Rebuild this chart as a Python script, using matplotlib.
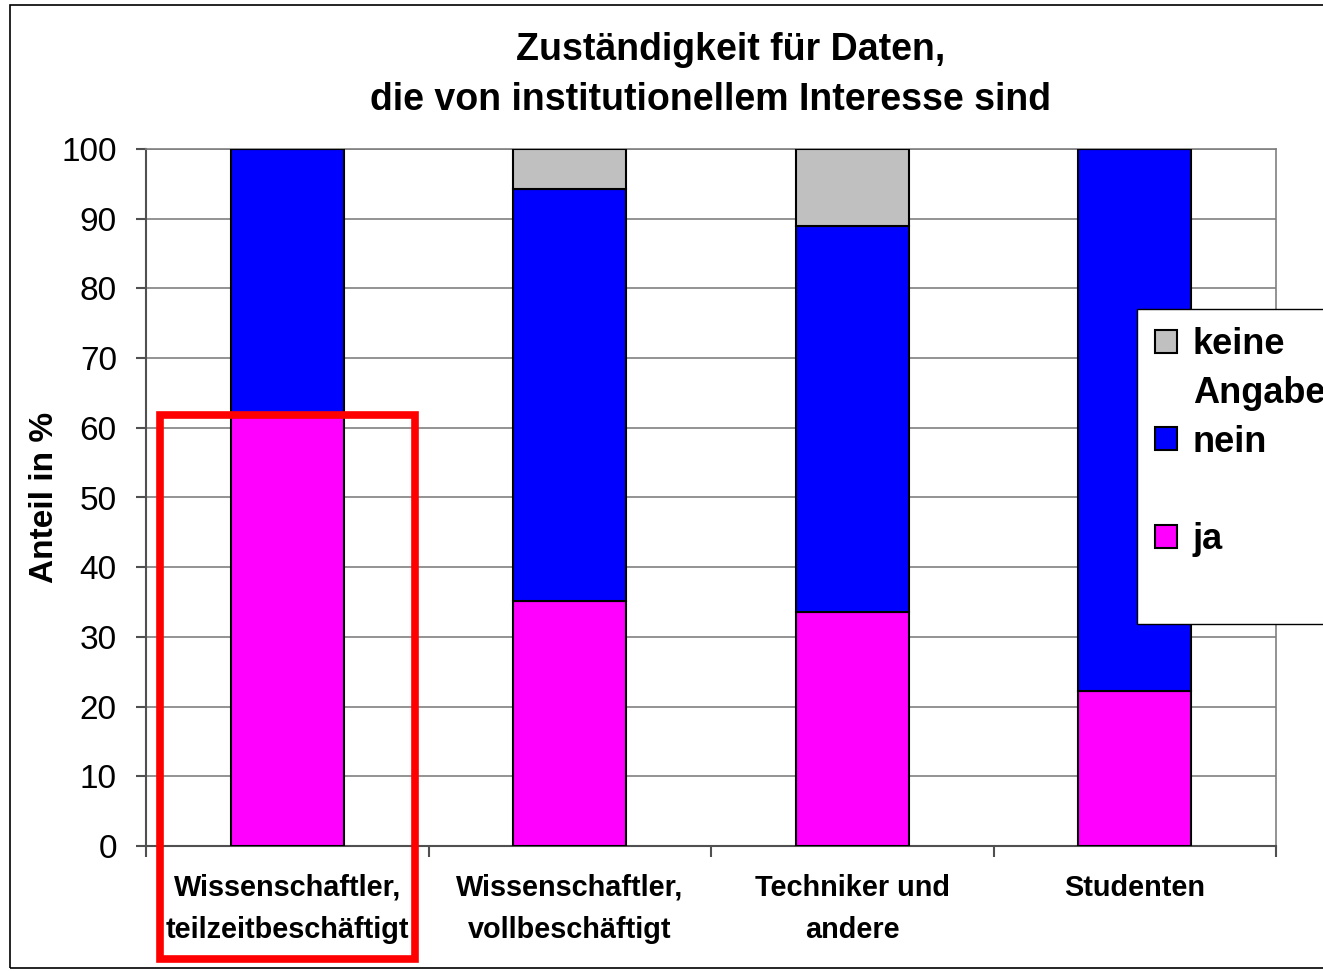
import matplotlib.pyplot as plt
from matplotlib.patches import Rectangle
import numpy as np

plt.rcParams['font.family'] = ['Liberation Sans', 'DejaVu Sans']

# data
categories = ["Wissenschaftler,\nteilzeitbeschäftigt",
              "Wissenschaftler,\nvollbeschäftigt",
              "Techniker und\nandere",
              "Studenten"]
ja = [61.5, 35.2, 33.6, 22.2]
nein = [38.5, 59.1, 55.4, 77.8]
keine_angabe = [0.0, 5.7, 11.0, 0.0]

fig = plt.figure(figsize=(13.23, 9.71), dpi=100)
ax = fig.add_axes([146/1323, 1-846/971, 1130/1323, 697/971])

x = np.arange(len(categories))
w = 0.4
b1 = ax.bar(x, ja, w, color="#ff00ff", edgecolor="black", lw=1.5, label="ja", zorder=3)
b2 = ax.bar(x, nein, w, bottom=ja, color="#0000ff", edgecolor="black", lw=1.5, label="nein", zorder=3)
bot = np.array(ja) + np.array(nein)
b3 = ax.bar(x, keine_angabe, w, bottom=bot, color="#c0c0c0", edgecolor="black", lw=1.5,
            label="keine Angabe", zorder=3)

ax.set_xlim(-0.5, 3.5)
ax.set_ylim(0, 100)
ax.set_yticks(range(0, 101, 10))
ax.yaxis.grid(True, color="#808080", lw=1.2, zorder=0)
for s in ["top", "right"]:
    ax.spines[s].set_color("#808080")
    ax.spines[s].set_linewidth(1.2)
for s in ["left", "bottom"]:
    ax.spines[s].set_color("#505050")
    ax.spines[s].set_linewidth(1.5)
ax.tick_params(axis="y", labelsize=24, length=7, width=1.5, color="#505050", pad=14)
ax.set_xticks(x)
ax.set_xticklabels(categories, fontsize=20.8, fontweight="bold", linespacing=1.65)
ax.tick_params(axis="x", length=0, pad=20)
ax.set_xticks(np.arange(-0.5, 4, 1), minor=True)
ax.tick_params(axis="x", which="minor", length=8, width=1.5, color="#505050")

ax.set_ylabel("Anteil in %", fontsize=24, fontweight="bold", labelpad=1)
fig.text(731/1323, 1-50/971, "Zuständigkeit für Daten,",
         ha="center", va="center", fontsize=27, fontweight="bold")
fig.text(711/1323, 1-100/971, "die von institutionellem Interesse sind",
         ha="center", va="center", fontsize=27, fontweight="bold")

# legend: two-line label split into rows, with empty rows as in the original
blank = Rectangle((0, 0), 1, 1, facecolor="none", edgecolor="none")
leg = fig.legend(handles=[b3, blank, b2, blank, b1, blank],
                 labels=["keine", "Angabe", "nein", " ", "ja", " "],
                 loc="upper left", bbox_to_anchor=(1137/1323, 1-309/971), borderaxespad=0,
                 prop={"weight": "bold", "size": 26}, frameon=True, fancybox=False,
                 framealpha=1.0, handlelength=0.6, handleheight=0.6, handletextpad=0.45,
                 labelspacing=0.38, borderpad=0.5)
leg.get_frame().set_edgecolor("black")
leg.get_frame().set_facecolor("white")
leg.get_frame().set_linewidth(1.0)

# figure border
fig.patches.append(Rectangle((10/1323, 1-968/971), 1.0, 963/971, transform=fig.transFigure,
                             fill=False, edgecolor="black", lw=1.2))
# red highlight box
fig.patches.append(Rectangle((160/1323, 1-959/971), 255/1323, 544/971, transform=fig.transFigure,
                             fill=False, edgecolor="red", lw=5.5, zorder=10))

fig.savefig("out.png", dpi=100)
